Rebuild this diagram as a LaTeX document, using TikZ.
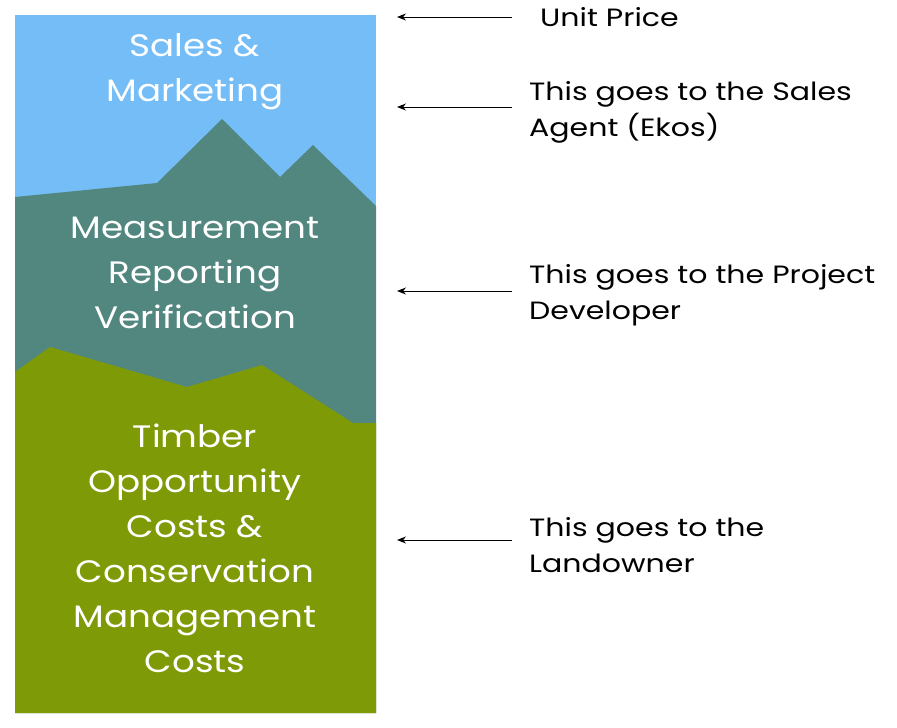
\documentclass[tikz,border=0pt]{standalone}
\usepackage{fontspec}
\setmainfont{Poppins}[FakeStretch=1.15]
\newfontfamily\notefont{Poppins}[FakeStretch=1.2]
\usetikzlibrary{arrows.meta}
\definecolor{sky}{HTML}{74BDF7}
\definecolor{teal2}{HTML}{52877F}
\definecolor{olive2}{HTML}{7F9A07}
\begin{document}
\begin{tikzpicture}[x=1pt,y=-1pt,
  lab/.style={text=white,font=\fontsize{31}{45}\selectfont,align=center,inner sep=0},
  note/.style={font=\notefont\fontsize{25}{36}\selectfont,align=left,anchor=west,inner sep=0},
  arr/.style={-{Stealth[length=9pt,width=7pt]},line width=1pt}]
\useasboundingbox (0,0) rectangle (897,728);
\fill[sky] (15,15) rectangle (376,713);
\fill[teal2] (15,197) -- (157,183) -- (222,119) -- (280,177) -- (313,145) -- (376,206) -- (376,713) -- (15,713) -- cycle;
\fill[olive2] (15,372) -- (50,347) -- (187,387) -- (262,365) -- (353,423) -- (376,423) -- (376,713) -- (15,713) -- cycle;
\node[lab] (sm) at (195,72) {Sales \&\\Marketing};
\node[lab] (mrv) at (195,273) {Measurement\\Reporting\\Verification};
\node[lab] (toc) at (195,548) {Timber\\Opportunity\\Costs \&\\Conservation\\Management\\Costs};
\coordinate (a1) at (512,17); \coordinate (b1) at (397,17);
\coordinate (a2) at (512,107); \coordinate (b2) at (397,107);
\coordinate (a3) at (512,291); \coordinate (b3) at (397,291);
\coordinate (a4) at (512,540); \coordinate (b4) at (397,540);
\draw[arr] (a1) -- (b1);
\draw[arr] (a2) -- (b2);
\draw[arr] (a3) -- (b3);
\draw[arr] (a4) -- (b4);
\node[note] (n1) at (540,17) {Unit Price};
\node[note] (n2) at (529,112) {This goes to the Sales\\Agent (Ekos)};
\node[note] (n3) at (529,295) {This goes to the Project\\Developer};
\node[note] (n4) at (529,545) {This goes to the\\Landowner};
\end{tikzpicture}
\end{document}
